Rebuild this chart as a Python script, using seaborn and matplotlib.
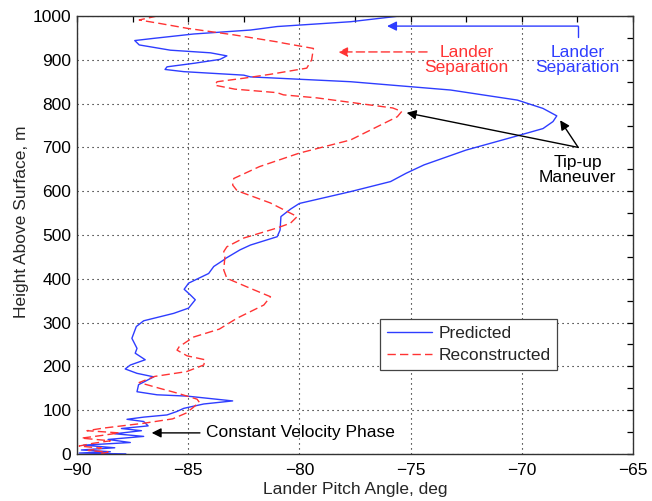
import matplotlib
matplotlib.use("Agg")
import matplotlib.pyplot as plt
from matplotlib.ticker import MultipleLocator
import seaborn as sns
import pandas as pd

# Predicted lander pitch profile (height in m, pitch angle in deg), top to bottom
pred_height = [1000, 987, 976, 968, 959, 949, 944, 934, 922, 916, 909, 901, 892, 884, 878,
               873, 865, 861, 850, 831, 808, 789, 772, 759, 743, 726, 694, 660, 641, 622,
               599, 572, 559, 542, 511, 496, 477, 466, 447, 443, 428, 412, 390, 376, 363,
               352, 333, 321, 304, 291, 264, 241, 230, 215, 203, 194, 184, 176, 158, 142,
               135, 132, 121, 114, 104, 97, 89, 84, 79, 74, 64, 58, 53, 46, 40, 33, 26,
               20, 14, 9, 5, 2, 0]
pred_angle = [-75.5, -77.7, -81.0, -82.2, -84.75, -86.55, -87.4, -87.2, -85.8, -84.0, -83.26,
              -83.57, -84.75, -85.95, -86.04, -85.2, -82.5, -82.2, -77.7, -73.2, -70.2, -69.05,
              -68.43, -68.6, -69.05, -70.23, -72.5, -74.4, -75.2, -75.9, -77.7, -80.0, -80.4,
              -80.83, -80.87, -81.0, -82.2, -82.67, -83.3, -83.4, -83.85, -84.08, -84.98,
              -85.18, -84.9, -84.68, -84.98, -85.65, -87.0, -87.33, -87.53, -87.3, -87.38,
              -86.93, -87.6, -87.83, -87.3, -86.55, -87.23, -87.3, -86.4, -85.05, -83.0,
              -84.3, -85.2, -85.5, -85.95, -87.0, -87.75, -87.0, -86.8, -88.0, -87.1, -88.3,
              -87.0, -88.6, -87.6, -89.7, -88.3, -89.8, -88.5, -89.9, -87.8]

# Reconstructed lander pitch profile
recon_height = [1000, 991, 983, 972, 957, 941, 938, 926, 900, 881, 867, 858, 850, 842, 833,
                825, 820, 813, 790, 782, 770, 717, 687, 656, 629, 614, 601, 573, 542, 527,
                516, 493, 473, 462, 450, 420, 401, 378, 359, 340, 310, 285, 267, 245, 237,
                224, 215, 203, 188, 177, 163, 150, 139, 125, 118, 105, 93, 80, 70, 59, 53,
                48, 42, 36, 30, 24, 18, 13, 8, 4, 0]
recon_angle = [-86.4, -87.2, -86.27, -85.05, -82.95, -81.0, -80.7, -79.37, -79.45, -79.67,
               -81.3, -82.5, -83.7, -83.8, -82.9, -81.0, -80.72, -79.2, -75.8, -75.4, -75.6,
               -77.7, -80.0, -81.8, -82.95, -83.0, -82.8, -81.3, -80.1, -80.4, -81.0, -82.5,
               -83.26, -83.4, -83.35, -83.4, -83.26, -82.2, -81.3, -81.6, -82.8, -83.6,
               -84.75, -85.4, -85.5, -85.05, -84.24, -84.3, -85.07, -86.5, -87.2, -86.3,
               -85.5, -84.6, -84.5, -84.8, -85.1, -85.7, -87.0, -88.8, -89.55, -88.1, -88.9,
               -89.8, -88.5, -89.3, -89.9, -88.9, -89.5, -88.6, -89.0]

x_ticks = [-90, -85, -80, -75, -70, -65]
y_ticks = [0, 100, 200, 300, 400, 500, 600, 700, 800, 900, 1000]

BLUE = "#2e3dff"
RED = "#ff3333"

sns.set_style("white")
plt.rcParams["font.family"] = ["Liberation Sans", "DejaVu Sans"]
plt.rcParams["font.size"] = 12

fig = plt.figure(figsize=(6.52, 5.01), dpi=100)
ax = fig.add_axes([0.118, 0.094, 0.853, 0.874])

pred = pd.DataFrame({"angle": pred_angle, "height": pred_height})
recon = pd.DataFrame({"angle": recon_angle, "height": recon_height})

sns.lineplot(data=pred, x="angle", y="height", sort=False, estimator=None,
             color=BLUE, lw=1.0, label="Predicted", ax=ax)
sns.lineplot(data=recon, x="angle", y="height", sort=False, estimator=None,
             color=RED, lw=1.0, linestyle=(0, (6, 3)), label="Reconstructed", ax=ax)

ax.set_xlim(-90, -65)
ax.set_ylim(0, 1000)
ax.set_xticks(x_ticks)
ax.set_yticks(y_ticks)
ax.xaxis.set_minor_locator(MultipleLocator(2.5))
ax.yaxis.set_minor_locator(MultipleLocator(50))
ax.tick_params(which="both", direction="in", length=4, width=0.9, top=True, right=True,
               labelsize=12.5, colors="black")
ax.tick_params(axis="x", pad=6.5)
ax.tick_params(axis="y", pad=4)
ax.grid(True, which="major", color="black", lw=0.8, linestyle=(0, (1, 3.5)))
for sp in ax.spines.values():
    sp.set_color("#333333")
    sp.set_linewidth(1.0)

ax.set_xlabel("Lander Pitch Angle, deg", fontsize=12.5, labelpad=3)
ax.set_ylabel("Height Above Surface, m", fontsize=12.5)
ax.yaxis.set_label_coords(-0.087, 0.53)

# Lander separation callouts
ax.plot([-67.47, -67.47], [952, 977], color=BLUE, lw=1.0)
ax.annotate("", xy=(-76.06, 977), xytext=(-67.47, 977),
            arrowprops=dict(arrowstyle="-|>", color=BLUE, lw=1.0, mutation_scale=14,
                            shrinkA=0, shrinkB=0))
ax.text(-67.5, 900, "Lander\nSeparation", color=BLUE, ha="center", va="center",
        fontsize=12.5, linespacing=1.05)
ax.annotate("", xy=(-78.26, 918), xytext=(-74.26, 918),
            arrowprops=dict(arrowstyle="-|>", color=RED, lw=1.0, mutation_scale=14,
                            linestyle=(0, (6, 3)), shrinkA=0, shrinkB=0))
ax.text(-72.5, 900, "Lander\nSeparation", color=RED, ha="center", va="center",
        fontsize=12.5, linespacing=1.05)

# Tip-up maneuver callout
for tip in [(-68.28, 762), (-75.18, 779)]:
    ax.annotate("", xy=tip, xytext=(-67.47, 700),
                arrowprops=dict(arrowstyle="-|>", color="black", lw=1.0, mutation_scale=14,
                                shrinkA=0, shrinkB=0))
ax.text(-67.5, 648, "Tip-up\nManeuver", color="black", ha="center", va="center",
        fontsize=12.5, linespacing=1.05)

# Constant velocity phase callout
ax.annotate("", xy=(-86.64, 48), xytext=(-84.47, 48),
            arrowprops=dict(arrowstyle="-|>", color="black", lw=1.0, mutation_scale=14,
                            shrinkA=0, shrinkB=0))
ax.text(-84.2, 48, "Constant Velocity Phase", color="black", ha="left", va="center",
        fontsize=12.5)

leg = ax.legend(loc="upper left", bbox_to_anchor=(0.545, 0.309), fancybox=False,
                framealpha=1, edgecolor="#444444", fontsize=12.5, handlelength=2.6,
                handletextpad=0.35, borderpad=0.4, labelspacing=0.42, borderaxespad=0)
leg.get_frame().set_linewidth(0.9)

fig.savefig("out.png", dpi=100, facecolor="white")
